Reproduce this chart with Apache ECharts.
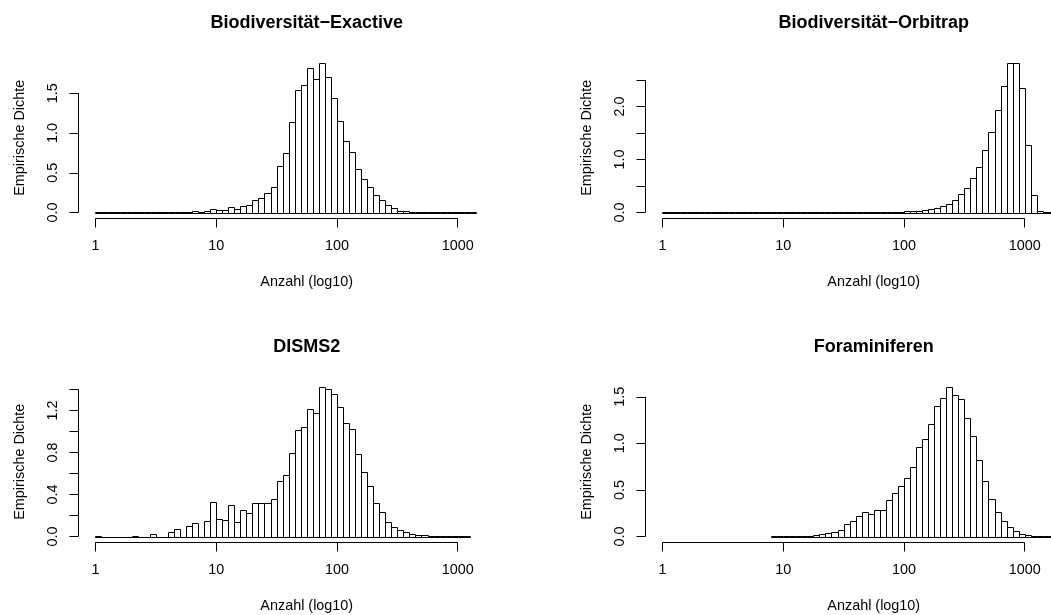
<!DOCTYPE html>
<html>
<head>
<meta charset="utf-8">
<script src="https://cdn.jsdelivr.net/npm/echarts@6/dist/echarts.min.js"></script>
<style>
  html, body { margin: 0; padding: 0; background: #fff; }
  #chart { width: 1051px; height: 615px; }
</style>
</head>
<body>
<div id="chart"></div>
<script>
// --- data: density per bin of log10(count), bin width 0.05 ---
const binWidth = 0.05;

const panelTitles = ['Biodiversit\u00e4t\u2212Exactive', 'Biodiversit\u00e4t\u2212Orbitrap', 'DISMS2', 'Foraminiferen'];

// first bin edge (log10) of each histogram
const exactiveStart = 0;
const orbitrapStart = 0;
const dismsStart = 0;
const foraStart = 0.9;

const exactiveDichte = [
  0.002, 0.002, 0.001, 0.002, 0.001, 0.002, 0.002, 0.001, 0.002, 0.003,
  0.002, 0.003, 0.004, 0.003, 0.006, 0.005, 0.013, 0.005, 0.017, 0.047,
  0.03, 0.03, 0.068, 0.038, 0.08, 0.089, 0.153, 0.186, 0.246, 0.322,
  0.585, 0.754, 1.14, 1.542, 1.60, 1.814, 1.674, 1.881, 1.703, 1.436,
  1.157, 0.898, 0.763, 0.551, 0.42, 0.322, 0.225, 0.161, 0.093, 0.055,
  0.025, 0.013, 0.008, 0.005, 0.003, 0.002, 0.002, 0.001, 0.001, 0.001,
  0.001, 0.001, 0.001
];

const orbitrapDichte = [
  0.002, 0.001, 0.002, 0.001, 0.002, 0.001, 0.001, 0.002, 0.001, 0.001,
  0.001, 0.002, 0.001, 0.002, 0.002, 0.002, 0.003, 0.003, 0.003, 0.003,
  0.003, 0.003, 0.003, 0.004, 0.004, 0.004, 0.005, 0.005, 0.006, 0.006,
  0.006, 0.007, 0.007, 0.008, 0.008, 0.009, 0.01, 0.012, 0.015, 0.019,
  0.025, 0.03, 0.038, 0.05, 0.063, 0.083, 0.114, 0.165, 0.229, 0.343,
  0.47, 0.654, 0.857, 1.175, 1.524, 1.93, 2.394, 2.82, 2.82, 2.356,
  1.276, 0.337, 0.02, 0.006, 0.002, 0.001
];

const dismsDichte = [
  0.003, 0, 0, 0, 0, 0, 0.007, 0, 0, 0.022,
  0, 0, 0.042, 0.07, 0, 0.099, 0.128, 0, 0.147, 0.326,
  0.166, 0.157, 0.298, 0.138, 0.253, 0.224, 0.317, 0.317, 0.323, 0.358,
  0.528, 0.585, 0.797, 1.017, 1.04, 1.212, 1.174, 1.424, 1.408, 1.356,
  1.238, 1.084, 1.027, 0.79, 0.611, 0.48, 0.32, 0.234, 0.141, 0.093,
  0.061, 0.042, 0.026, 0.015, 0.01, 0.006, 0.004, 0.003, 0.002, 0.002,
  0.001, 0.001
];

const foraDichte = [
  0.001, 0.001, 0.002, 0.002, 0.003, 0.004, 0.01, 0.018, 0.029, 0.04,
  0.047, 0.069, 0.13, 0.163, 0.224, 0.26, 0.246, 0.282, 0.289, 0.394,
  0.47, 0.546, 0.629, 0.741, 0.958, 1.048, 1.207, 1.402, 1.482, 1.605,
  1.521, 1.478, 1.269, 1.084, 0.824, 0.6, 0.405, 0.267, 0.166, 0.098,
  0.054, 0.029, 0.018, 0.01, 0.006, 0.004, 0.002, 0.001
];

// axis ticks
const xTicks = [0, 1, 2, 3];
const yTicks = [
  [0, 0.5, 1.0, 1.5],
  [0, 0.5, 1.0, 1.5, 2.0, 2.5],
  [0, 0.2, 0.4, 0.6, 0.8, 1.0, 1.2, 1.4],
  [0, 0.5, 1.0, 1.5]
];
const yLabels = [
  [0, 0.5, 1.0, 1.5],
  [0, 1.0, 2.0],
  [0, 0.4, 0.8, 1.2],
  [0, 0.5, 1.0, 1.5]
];

const starts = [exactiveStart, orbitrapStart, dismsStart, foraStart];
const dichten = [exactiveDichte, orbitrapDichte, dismsDichte, foraDichte];

// --- layout (R-like 2x2 panels, right column runs past the page edge) ---
const font = "'Liberation Sans', Arial, Helvetica, sans-serif";
const xMin = -0.14, xMax = 3.64;
const colLeft = [78.5, 645.5];
const rowTop = [57, 381];
const plotW = 456.5, plotH = 161.5;
const titleTop = [14.5, 338];

const chart = echarts.init(document.getElementById('chart'));

const grids = [], xAxes = [], yAxes = [], series = [], titles = [];

dichten.forEach((dichte, i) => {
  const col = i % 2, row = Math.floor(i / 2);
  const ymax = Math.max(...dichte);
  const yMin = -0.04 * ymax, yMax = 1.04 * ymax;
  const ticks = yTicks[i];

  grids.push({
    left: colLeft[col], top: rowTop[row], width: plotW, height: plotH,
    containLabel: false, outerBoundsMode: 'none'
  });

  titles.push({
    text: panelTitles[i],
    left: colLeft[col] + plotW / 2,
    top: titleTop[row],
    textAlign: 'center',
    padding: 0,
    textStyle: { fontFamily: font, fontSize: 18, fontWeight: 'bold', color: '#000' }
  });

  xAxes.push({
    gridIndex: i, type: 'value', min: xMin, max: xMax,
    axisLine: { show: false, onZero: false },
    splitLine: { show: false },
    axisTick: { show: true, length: 9, customValues: xTicks, lineStyle: { color: '#000', width: 1 } },
    axisLabel: {
      customValues: xTicks, margin: 21, color: '#000', fontFamily: font, fontSize: 14.4,
      formatter: v => String(Math.round(Math.pow(10, v)))
    },
    name: 'Anzahl (log10)', nameLocation: 'middle', nameGap: 57,
    nameTextStyle: { color: '#000', fontFamily: font, fontSize: 14.4 }
  });

  yAxes.push({
    gridIndex: i, type: 'value', min: yMin, max: yMax,
    axisLine: { show: false, onZero: false },
    splitLine: { show: false },
    axisTick: { show: true, length: 9, customValues: ticks, lineStyle: { color: '#000', width: 1 } },
    axisLabel: {
      customValues: yLabels[i], rotate: 90, margin: 18, color: '#000', fontFamily: font, fontSize: 14.4,
      formatter: v => v.toFixed(1)
    },
    name: 'Empirische Dichte', nameLocation: 'middle', nameGap: 51,
    nameTextStyle: { color: '#000', fontFamily: font, fontSize: 14.4 }
  });

  // histogram bars
  series.push({
    type: 'custom', xAxisIndex: i, yAxisIndex: i,
    silent: true, animation: false,
    data: dichte.map((d, k) => [starts[i] + k * binWidth, starts[i] + (k + 1) * binWidth, d]),
    renderItem: (params, api) => {
      const p0 = api.coord([api.value(0), 0]);
      const p1 = api.coord([api.value(1), api.value(2)]);
      const x0 = Math.round(p0[0]) + 0.5, x1 = Math.round(p1[0]) + 0.5;
      const yb = Math.round(p0[1]) + 0.5, yt = Math.round(p1[1]) + 0.5;
      return {
        type: 'rect',
        shape: { x: x0, y: yt, width: x1 - x0, height: yb - yt },
        style: { fill: '#fff', stroke: '#000', lineWidth: 1 }
      };
    }
  });

  // R style axis lines: only from first to last tick
  series.push({
    type: 'line', xAxisIndex: i, yAxisIndex: i, silent: true, animation: false, clip: false,
    symbol: 'none', lineStyle: { color: '#000', width: 1 },
    data: [[xTicks[0], yMin], [xTicks[xTicks.length - 1], yMin]]
  });
  series.push({
    type: 'line', xAxisIndex: i, yAxisIndex: i, silent: true, animation: false, clip: false,
    symbol: 'none', lineStyle: { color: '#000', width: 1 },
    data: [[xMin, ticks[0]], [xMin, ticks[ticks.length - 1]]]
  });
});

chart.setOption({
  backgroundColor: '#fff',
  animation: false,
  title: titles,
  grid: grids,
  xAxis: xAxes,
  yAxis: yAxes,
  series: series
});
</script>
</body>
</html>
